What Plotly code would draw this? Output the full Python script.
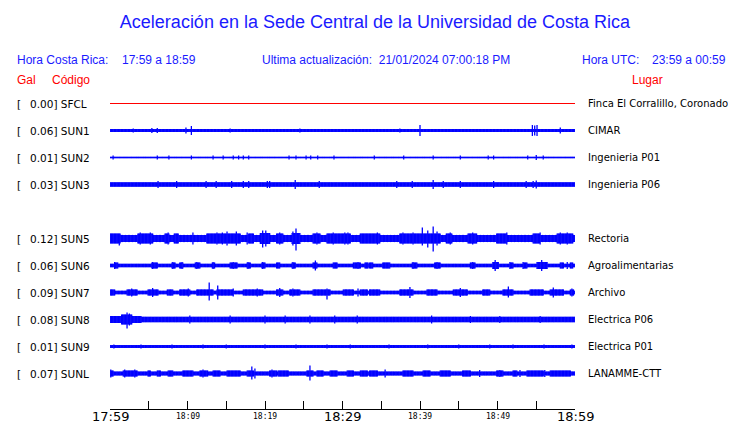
import numpy as np
import plotly.graph_objects as go

# ---------------- data ----------------
codes = ["SFCL", "SUN1", "SUN2", "SUN3", "SUN5", "SUN6", "SUN7", "SUN8", "SUN9", "SUNL"]
gal = [0.00, 0.06, 0.01, 0.03, 0.12, 0.06, 0.09, 0.08, 0.01, 0.07]
places = ["Finca El Corralillo, Coronado", "CIMAR", "Ingenieria P01", "Ingenieria P06",
          "Rectoria", "Agroalimentarias", "Archivo", "Electrica P06", "Electrica P01",
          "LANAMME-CTT"]

# background amplitude of each trace (display units, 27 units = one row)
base_amp = [0.0, 1.5, 0.7, 2.2, 3.6, 1.7, 1.8, 2.7, 1.4, 1.9]

# bursts: (start minute, end minute, amplitude)
bursts = {
    "SUN1": [(0.0, 10.0, 1.2)],
    "SUN5": [(0.0, 1.3, 5), (3.6, 5.5, 5), (7.1, 7.6, 5), (8.3, 8.8, 5), (12.5, 16.8, 5),
             (17.9, 18.5, 5), (19.4, 20.6, 5.5), (21.5, 22.3, 5), (23.5, 24.5, 5.5),
             (26.2, 27.1, 5), (28.0, 30.5, 5), (30.6, 31.0, 5), (32.3, 34.8, 5),
             (37.4, 42.6, 5), (43.4, 44.1, 5), (46.2, 47.3, 5), (49.9, 51.2, 5),
             (54.6, 55.5, 5), (57.7, 59.7, 5)],
    "SUN6": [(0.6, 1.0, 3), (5.4, 6.1, 3), (8.0, 8.4, 3), (9.0, 9.4, 3), (11.0, 11.6, 3),
             (13.2, 13.5, 3), (15.5, 16.4, 3), (17.7, 18.1, 3), (19.6, 20.0, 3),
             (21.5, 21.9, 3), (23.5, 23.9, 3), (26.2, 26.7, 3), (28.8, 29.3, 3),
             (31.4, 32.3, 3), (32.9, 33.3, 3), (33.5, 33.9, 3), (35.2, 36.1, 3),
             (39.0, 39.6, 3), (41.9, 42.6, 3), (46.5, 47.1, 3), (49.4, 50.1, 3.5),
             (51.6, 52.0, 3), (53.3, 53.8, 3), (55.1, 56.4, 3.5), (58.1, 58.5, 3),
             (59.4, 59.7, 3)],
    "SUN7": [(0.0, 0.6, 3.1), (2.2, 3.5, 3.1), (4.9, 6.2, 3.1), (7.4, 8.1, 3.1),
             (9.0, 10.3, 3.1), (11.2, 13.3, 3.1), (13.8, 15.9, 3.1), (17.2, 19.7, 3.1),
             (21.5, 22.3, 3.1), (23.2, 24.5, 3.1), (26.2, 28.4, 3.1), (30.1, 31.4, 3.1),
             (32.3, 33.2, 3.1), (33.5, 34.8, 3.1), (37.4, 39.1, 3.1), (40.9, 42.2, 3.1),
             (44.3, 46.1, 3.1), (48.1, 49.0, 3.1), (50.7, 52.0, 3.1), (54.2, 55.9, 3.1),
             (56.8, 58.5, 3.1), (59.4, 59.8, 3.1)],
    "SUN8": [(0.0, 4.0, 3.5), (1.5, 2.8, 5)],
    "SUNL": [(0.0, 0.4, 3.0), (1.7, 3.5, 3.0), (4.9, 5.2, 3.0), (6.1, 6.5, 3.0),
             (7.5, 8.1, 3.0), (9.4, 10.7, 3.0), (11.6, 12.6, 3.0), (13.3, 14.2, 3.0),
             (15.1, 16.8, 3.0), (17.7, 18.5, 3.0), (20.6, 21.5, 3.0), (21.7, 23.0, 3.0),
             (25.4, 26.2, 3.0), (26.7, 27.5, 3.0), (28.4, 29.3, 3.0), (30.6, 31.4, 3.0),
             (32.3, 33.2, 3.0), (33.5, 34.5, 3.0), (37.8, 39.1, 3.0), (40.4, 41.3, 3.0),
             (42.6, 43.9, 3.0), (45.5, 46.5, 3.0), (49.9, 50.7, 3.0), (52.0, 52.5, 3.0),
             (53.8, 55.9, 3.0), (56.8, 59.4, 3.0)],
}

# spikes: (minute, amplitude up, amplitude down)
spikes = {
    "SUN1": [(3.0, 2, 2), (5.4, 2.5, 2.5), (6.1, 2.5, 2.5), (9.8, 3, 3), (10.5, 4.5, 4.5),
             (15.5, 2, 2), (24.5, 2, 2), (37.4, 2, 2), (40.0, 5.5, 5.5), (54.5, 5.5, 5.5),
             (54.8, 5, 5), (55.1, 5.5, 5.5), (58.1, 3, 3)],
    "SUN2": [(m, 2, 2) for m in [0.4, 6.1, 7.6, 10.5, 13.3, 14.6, 15.9, 16.6, 17.2, 17.9,
                                  23.1, 24.0, 25.3, 25.9, 26.8, 28.9, 34.1, 37.9, 41.7,
                                  45.2, 48.8, 49.5, 53.9, 55.9]] + [(55.0, 2.5, 2.5)],
    "SUN3": [(m, 3.5, 3.5) for m in [6.2, 8.6, 12.4, 13.7, 15.7, 17.2, 17.9, 20.3, 20.6,
                                      27.0, 37.0, 39.0, 43.0, 45.2, 49.5, 53.7, 54.6]]
            + [(23.9, 4.5, 4.5), (41.7, 4.5, 4.5), (55.0, 4, 4)],
    "SUN5": [(0.6, 5, 5), (1.2, 4, 7), (3.9, 6, 6), (5.2, 6, 6), (7.5, 6, 6), (10.7, 6, 6),
             (13.8, 6, 6), (14.5, 6, 6), (15.1, 7, 7), (16.3, 7, 7), (17.7, 6, 6),
             (19.7, 8, 9), (20.1, 8, 8), (21.9, 6, 6), (23.6, 7, 7), (24.0, 10, 12),
             (26.7, 6, 6), (28.8, 6, 6), (30.3, 6, 6), (30.7, 6, 6), (34.5, 6, 6),
             (37.8, 6, 6), (39.1, 6, 6), (40.3, 11, 7), (41.0, 8, 9), (41.7, 12, 13),
             (42.2, 7, 7), (43.9, 6, 6), (46.8, 6, 6), (51.2, 6, 6), (55.5, 6, 6),
             (58.1, 6, 6), (59.0, 6, 6)],
    "SUN6": [(m, 3.5, 3.5) for m in [0.6, 5.5, 8.1, 9.3, 11.2, 13.3, 15.9, 17.8, 19.7,
                                      23.6, 32.0, 39.1, 42.2, 46.8, 51.6, 53.3, 59.0]]
            + [(26.5, 5, 5), (49.7, 5.5, 5.5), (55.7, 5.5, 5.5)],
    "SUN7": [(2.8, 4, 4), (5.5, 4.5, 4.5), (10.1, 4, 4), (12.8, 10, 8), (13.9, 7, 7),
             (15.9, 4, 4), (19.0, 4, 4), (21.9, 4.5, 4.5), (23.6, 4, 4), (28.0, 4, 7),
             (32.0, 4, 4), (38.7, 5.5, 5.5), (45.2, 4.5, 4.5), (51.4, 6, 5), (57.2, 5, 5),
             (59.6, 4, 4)],
    "SUN8": [(1.9, 5, 5), (2.2, 7, 9), (2.5, 6, 6), (10.3, 4, 4), (15.5, 4, 4), (20.0, 4, 4),
             (22.6, 4, 4), (25.8, 4, 4), (29.0, 4, 4), (31.9, 4, 4), (41.5, 4, 4),
             (46.5, 3.5, 3.5), (50.3, 3.5, 3.5), (55.5, 3.5, 3.5)],
    "SUN9": [(m, 1.9, 1.9) for m in [0.5, 4, 8, 12, 15, 20, 24, 28, 31, 36, 41, 45, 49, 52,
                                      56, 59.6]],
    "SUNL": [(0.1, 4, 4), (1.9, 4, 4), (3.2, 4, 4), (6.5, 3, 3), (12.0, 4, 4), (18.3, 7, 6),
             (18.7, 5, 5), (20.9, 4, 4), (25.8, 8, 7), (35.5, 4, 4), (47.7, 3.5, 3.5),
             (50.3, 3.5, 3.5), (52.9, 3.5, 3.5), (56.1, 3.5, 3.5)],
}

tick_minutes = list(range(0, 61, 5))
tick_labels = ["17:59", "18:04", "18:09", "18:14", "18:19", "18:24", "18:29",
               "18:34", "18:39", "18:44", "18:49", "18:54", "18:59"]
big_labels = ["17:59", "18:29", "18:59"]
small_labels = ["18:09", "18:19", "18:39", "18:49"]

# ---------------- figure ----------------
BLUE = "#0000ff"
HDR = "#1a1aff"
RED = "#ff0000"
ROW = 27.0  # display units per row
OFF = 8     # page offset of the plot div

minutes = np.round(np.arange(0, 600 + 1) / 10.0, 1)
rows = [i + (1 if i >= 4 else 0) for i in range(len(codes))]

fig = go.Figure()
for i, code in enumerate(codes):
    c = -rows[i]
    if code == "SFCL":
        fig.add_trace(go.Scatter(x=[minutes[0], minutes[-1]], y=[c, c], mode="lines",
                                 line=dict(color=RED, width=1), hoverinfo="skip",
                                 showlegend=False))
        continue
    up = np.full(minutes.shape, base_amp[i])
    dn = np.full(minutes.shape, base_amp[i])
    for s, e, a in bursts.get(code, []):
        msk = (minutes >= s) & (minutes <= e)
        up[msk] = np.maximum(up[msk], a)
        dn[msk] = np.maximum(dn[msk], a)
    for m, a_up, a_dn in spikes.get(code, []):
        k = int(round(m * 10))
        up[k] = max(up[k], a_up)
        dn[k] = max(dn[k], a_dn)
    xs, ys = [], []
    for k, m in enumerate(minutes):
        xs += [m, m, None]
        ys += [c - dn[k] / ROW, c + up[k] / ROW, None]
    fig.add_trace(go.Scatter(x=xs, y=ys, mode="lines", line=dict(color=BLUE, width=1.3),
                             hoverinfo="skip", showlegend=False, connectgaps=False))
    if code == "SUN2":
        fig.add_trace(go.Scatter(x=[minutes[0], minutes[-1]], y=[c, c], mode="lines",
                                 line=dict(color=BLUE, width=1), hoverinfo="skip",
                                 showlegend=False))

W, H = 740 - OFF, 423 - OFF
L, R, T, B = 110 - OFF, 165, 90 - OFF, 14
pw, ph = W - L - R, H - T - B


def px(x):
    return (x - OFF - L) / pw


def py(y):
    return (H - B - (y - OFF)) / ph


ann = []
# time labels under the axis, placed on the x scale
for m, t in zip(tick_minutes, tick_labels):
    if t in big_labels:
        f = dict(family="DejaVu Sans", size=13, color="black")
    elif t in small_labels:
        f = dict(family="DejaVu Sans Mono", size=8, color="black")
    else:
        continue
    ann.append(dict(x=m, y=py(416), xref="x", yref="paper", text=t, showarrow=False,
                    xanchor="center", yanchor="middle", font=f))

for i, code in enumerate(codes):
    c = -rows[i]
    ann.append(dict(x=px(15), y=c, xref="paper", yref="y", text="[", showarrow=False,
                    xanchor="left", yanchor="middle",
                    font=dict(family="DejaVu Sans", size=10.5, color="black")))
    ann.append(dict(x=px(28), y=c, xref="paper", yref="y",
                    text="%.2f] %s" % (gal[i], code), showarrow=False,
                    xanchor="left", yanchor="middle",
                    font=dict(family="DejaVu Sans", size=10.5, color="black")))
    ann.append(dict(x=px(586), y=c, xref="paper", yref="y", text=places[i],
                    showarrow=False, xanchor="left", yanchor="middle",
                    font=dict(family="DejaVu Sans", size=10, color="black")))

hdr_font = dict(family="Liberation Sans, Arial", size=12, color=HDR)
for text, x in [("Hora Costa Rica:", 15), ("17:59 a 18:59", 120),
                ("Ultima actualización:  21/01/2024 07:00:18 PM", 260),
                ("Hora UTC:", 580), ("23:59 a 00:59", 650)]:
    ann.append(dict(x=px(x), y=py(60), xref="paper", yref="paper", text=text,
                    showarrow=False, xanchor="left", yanchor="middle", font=hdr_font))
red_font = dict(family="Liberation Sans, Arial", size=12, color=RED)
for text, x in [("Gal", 15), ("Código", 50), ("Lugar", 630)]:
    ann.append(dict(x=px(x), y=py(80), xref="paper", yref="paper", text=text,
                    showarrow=False, xanchor="left", yanchor="middle", font=red_font))

fig.update_layout(
    width=W, height=H,
    margin=dict(l=L, r=R, t=T, b=B, pad=0),
    paper_bgcolor="white", plot_bgcolor="white",
    title=dict(text="Aceleración en la Sede Central de la Universidad de Costa Rica",
               x=(375 - OFF) / W, xanchor="center", y=1 - (22 - OFF) / H, yanchor="middle",
               xref="container", yref="container",
               font=dict(family="Liberation Sans, Arial", size=18, color=HDR)),
    xaxis=dict(range=[0, 60], tickmode="array", tickvals=tick_minutes,
               showticklabels=False,
               ticks="inside", ticklen=8, tickwidth=1, tickcolor="black",
               showline=True, linecolor="black", linewidth=1, showgrid=False,
               zeroline=False, automargin=False),
    yaxis=dict(range=[-(409 - 103.5) / ROW, (103.5 - 90) / ROW], visible=False,
               showgrid=False, zeroline=False),
    annotations=ann,
)

fig.write_html("out.html")
